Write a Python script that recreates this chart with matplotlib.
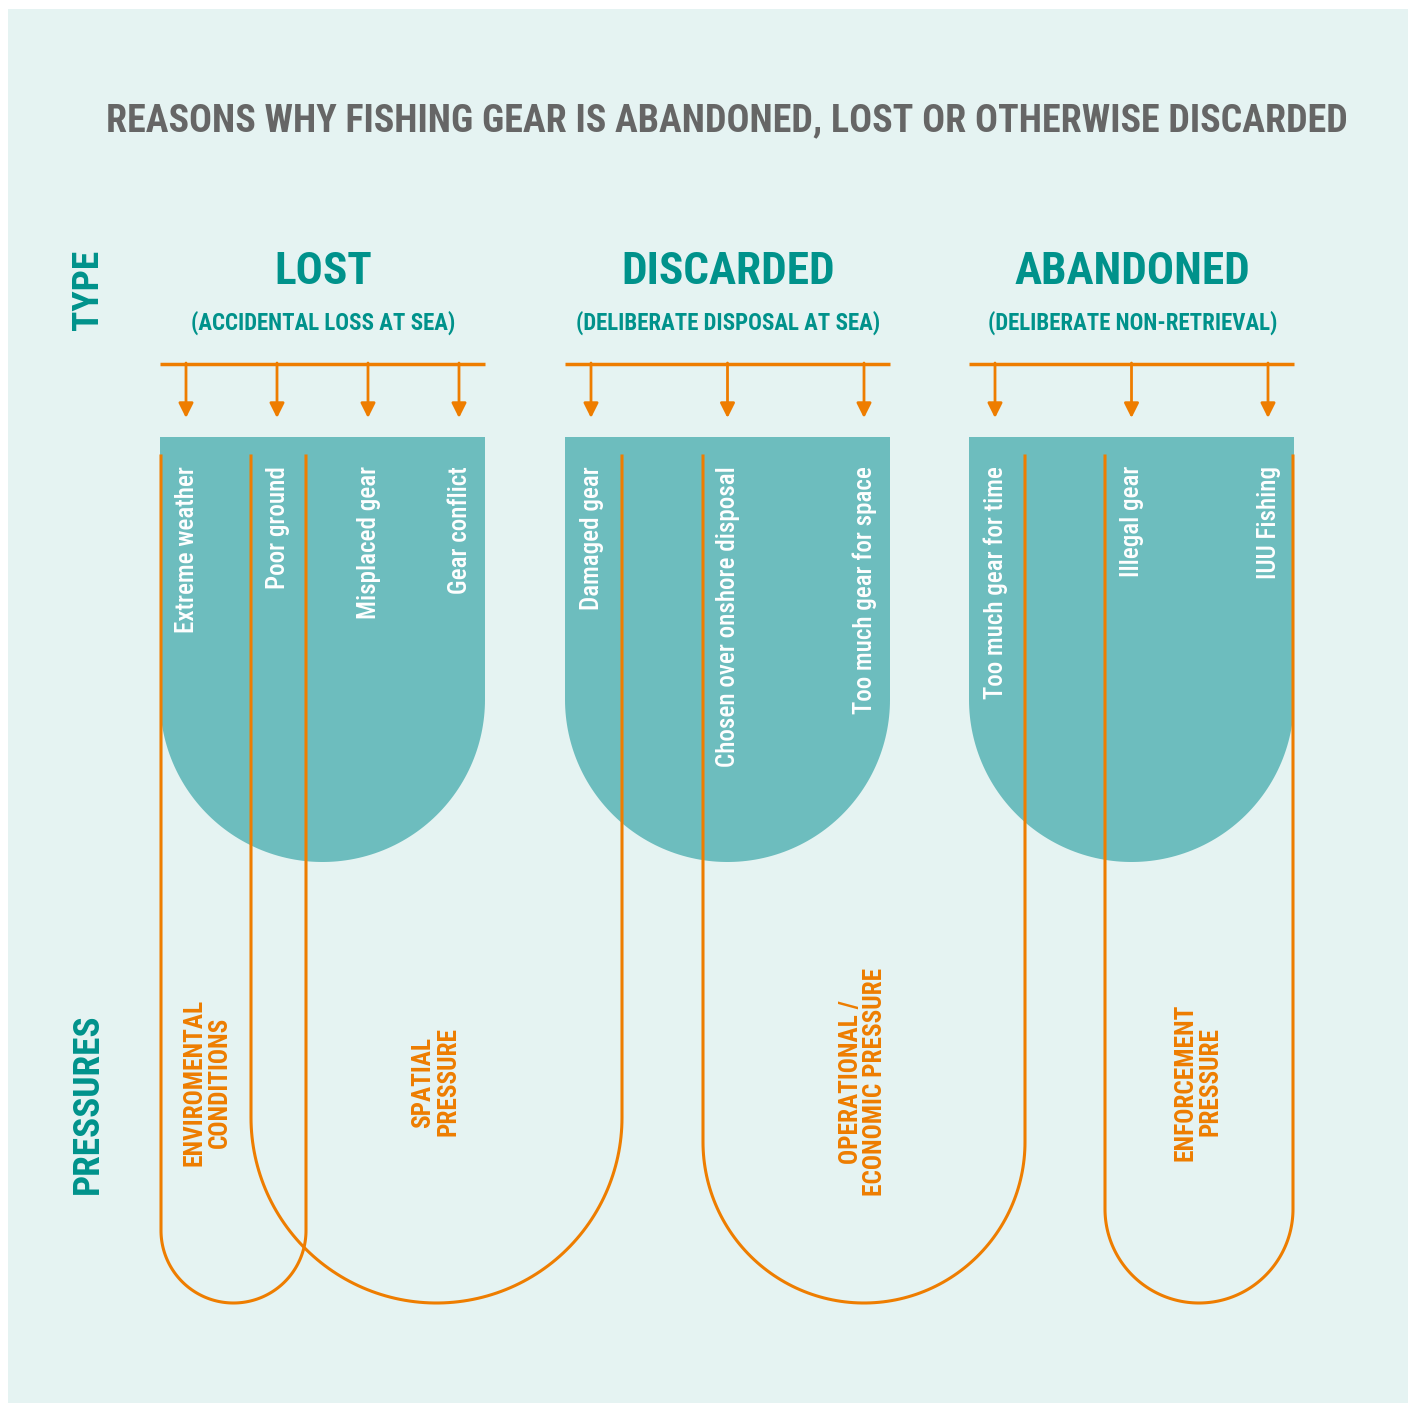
import numpy as np
import matplotlib.pyplot as plt
import matplotlib.patches as patches
from matplotlib import font_manager

# --- content ---------------------------------------------------------------
title = "REASONS WHY FISHING GEAR IS ABANDONED, LOST OR OTHERWISE DISCARDED"
types = ["LOST", "DISCARDED", "ABANDONED"]
type_notes = ["(ACCIDENTAL LOSS AT SEA)", "(DELIBERATE DISPOSAL AT SEA)",
              "(DELIBERATE NON-RETRIEVAL)"]
reasons = [
    ["Extreme weather", "Poor ground", "Misplaced gear", "Gear conflict"],
    ["Damaged gear", "Chosen over onshore disposal", "Too much gear for space"],
    ["Too much gear for time", "Illegal gear", "IUU Fishing"],
]
pressures = ["ENVIROMENTAL\nCONDITIONS", "SPATIAL\nPRESSURE",
             "OPERATIONAL /\nECONOMIC PRESSURE", "ENFORCEMENT\nPRESSURE"]
# left / right x of each pressure loop (pixel layout)
pressure_span = [(161, 306), (251, 622), (703, 1025), (1105, 1293)]

BG = "#e5f3f2"
TEAL = "#6dbdbe"
DARK = "#00928b"
ORANGE = "#ee7d00"
GREY = "#666666"


def pick_font(weight):
    # look for any condensed / narrow face that is installed
    prefs = ["Roboto Condensed", "Open Sans Condensed", "DejaVu Sans Condensed",
             "Liberation Sans Narrow", "Noto Sans"]
    best = None
    for f in font_manager.fontManager.ttflist:
        tag = (f.name + " " + f.fname + " " + str(f.stretch)).lower()
        if not ("condensed" in tag or "narrow" in tag):
            continue
        if f.style != "normal":
            continue
        w = f.weight if isinstance(f.weight, int) else \
            font_manager.weight_dict.get(f.weight, 400)
        rank = len(prefs)
        for k, p in enumerate(prefs):
            if p.lower().split()[0] in tag:
                rank = k
                break
        key = (rank, abs(w - weight))
        if best is None or key < best[0]:
            best = (key, f.fname)
    if best is None:
        return font_manager.FontProperties(
            family="DejaVu Sans", weight="bold" if weight >= 600 else "normal",
            stretch="condensed")
    return font_manager.FontProperties(fname=best[1])


REG = pick_font(500)
SEMI = pick_font(600)
BOLD = pick_font(700)

W, H = 1415, 1405
fig = plt.figure(figsize=(W / 100, H / 100), dpi=100)
fig.patch.set_facecolor("white")
ax = fig.add_axes([0, 0, 1, 1])
ax.set_xlim(0, W)
ax.set_ylim(H, 0)
ax.axis("off")
renderer = fig.canvas.get_renderer()


def fit(texts, target, vertical=False):
    # scale one shared font size so the widest text spans `target` pixels
    sizes = []
    for t in texts:
        bb = t.get_window_extent(renderer)
        sizes.append(bb.height if vertical else bb.width)
    s = texts[0].get_fontsize() * target / max(sizes)
    for t in texts:
        t.set_fontsize(s)


ax.add_patch(patches.Rectangle((8, 9), 1400, 1394, facecolor=BG, edgecolor="none"))

t = ax.text(727, 121, title, ha="center", va="center", color=GREY,
            fontproperties=SEMI, fontsize=30)
fit([t], 1240)

t = ax.text(88, 290, "TYPE", rotation=90, ha="center", va="center",
            color=DARK, fontproperties=BOLD, fontsize=36)
fit([t], 80, vertical=True)
t = ax.text(88, 1104, "PRESSURES", rotation=90, ha="center", va="center",
            color=DARK, fontproperties=BOLD, fontsize=36)
fit([t], 181, vertical=True)


def u_shape(x1, x2, top, bottom, n=120):
    r = (x2 - x1) / 2
    cx, cy = x1 + r, bottom - r
    a = np.linspace(0, np.pi, n)
    xs = np.concatenate([[x1], cx - r * np.cos(a), [x2]])
    ys = np.concatenate([[top], cy + r * np.sin(a), [top]])
    return xs, ys


block_x0 = [160, 565, 969]
block_w = 325
heads, notes, labels = [], [], []
for i, name in enumerate(types):
    x0 = block_x0[i]
    cx = x0 + block_w / 2
    heads.append(ax.text(cx + 1, 272, name, ha="center", va="center",
                         color=DARK, fontproperties=BOLD, fontsize=40))
    notes.append(ax.text(cx + 1, 323, type_notes[i], ha="center", va="center",
                         color=DARK, fontproperties=BOLD, fontsize=18))
    ax.plot([x0, x0 + block_w], [364, 364], color=ORANGE, lw=2.5,
            solid_capstyle="butt")

    xs, ys = u_shape(x0, x0 + block_w, 437, 862)
    ax.add_patch(patches.Polygon(np.column_stack([xs, ys]), closed=True,
                                 facecolor=TEAL, edgecolor="none"))

    pos = x0 + block_w * np.linspace(0.08, 0.92, len(reasons[i]))
    for x, label in zip(pos, reasons[i]):
        ax.annotate("", xy=(x, 418), xytext=(x, 363),
                    arrowprops=dict(arrowstyle="-|>", color=ORANGE, lw=2,
                                    mutation_scale=22, shrinkA=0, shrinkB=0))
        labels.append(ax.text(x + 1, 466, label, rotation=90, ha="center",
                              va="top", color="white", fontproperties=REG,
                              fontsize=20))

fit(heads, 235)
fit(notes, 304)
fit(labels, 300, vertical=True)

for (x1, x2), label in zip(pressure_span, pressures):
    xs, ys = u_shape(x1, x2, 456, 1303)
    ax.plot(xs, ys, color=ORANGE, lw=2.2)

label_x = [207, 436, 863, 1198]
plabels = []
for x, label in zip(label_x, pressures):
    plabels.append(ax.text(x, 1082, label, rotation=90, ha="center",
                           va="center", color=ORANGE, fontproperties=SEMI,
                           fontsize=22, linespacing=1.05,
                           multialignment="center"))
fit(plabels, 227, vertical=True)

fig.savefig("out.png", dpi=100, facecolor="white")
